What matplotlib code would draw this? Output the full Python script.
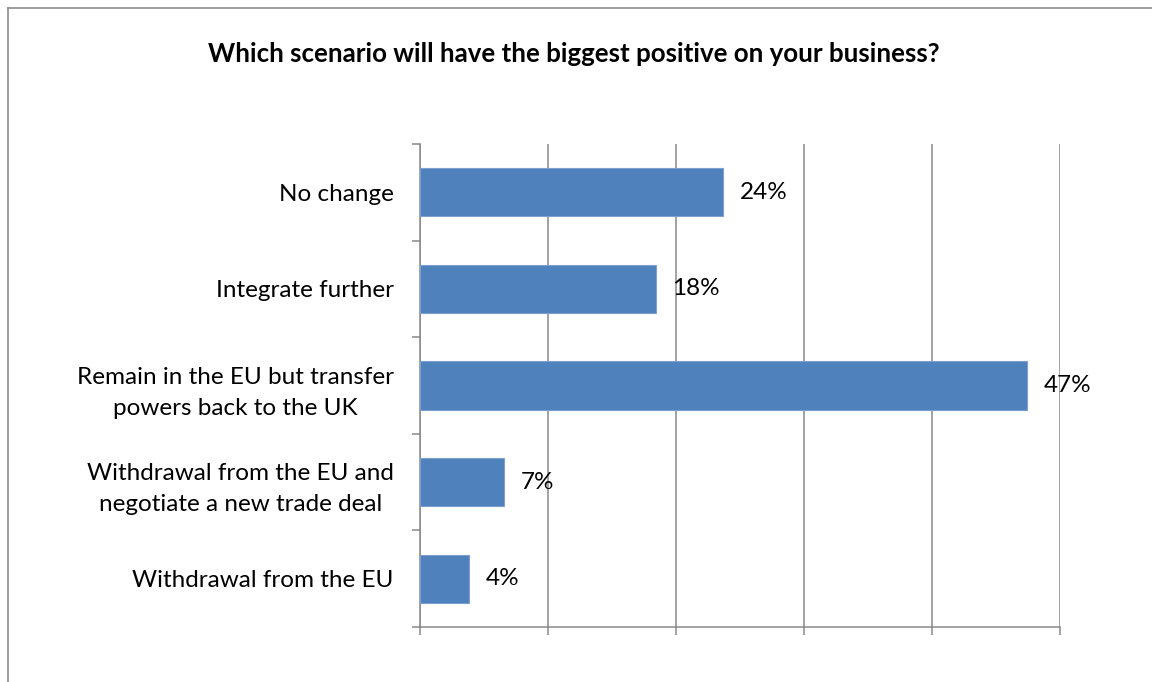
import matplotlib
matplotlib.use("Agg")
import matplotlib.pyplot as plt
from matplotlib.lines import Line2D

plt.rcParams['font.family'] = ['Lato', 'DejaVu Sans']

# data (percent of respondents)
scenarios = [
    "No change",
    "Integrate further",
    "Remain in the EU but transfer\npowers back to the UK",
    "Withdrawal from the EU and\nnegotiate a new trade deal",
    "Withdrawal from the EU",
]
shares = [23.65, 18.4, 47.4, 6.56, 3.85]
title = "Which scenario will have the biggest positive on your business?"

W, H = 1152, 682
fig = plt.figure(figsize=(W / 100, H / 100), dpi=100)
ax = fig.add_axes([420 / W, 1 - 627 / H, 640 / W, 483 / H])

grey = "#898989"
ypos = list(range(len(scenarios)))
ax.barh(ypos, shares, height=0.5, color="#4f81bd", edgecolor="#7ea0d0", linewidth=0.8, zorder=3)

for y, v in zip(ypos, shares):
    ax.annotate(f"{round(v)}%", (v, y), xytext=(12, 0), textcoords="offset points",
                va="center", ha="left", fontsize=17.5, zorder=4)

ax.set_xlim(0, 50)
ax.set_ylim(len(scenarios) - 0.5, -0.5)
ax.set_xticks(range(0, 51, 10))
ax.set_xticklabels([])
ax.xaxis.grid(True, color=grey, linewidth=1.1, zorder=0)
ax.tick_params(axis="x", length=6, width=1.1, color=grey)

ax.set_yticks(ypos)
ax.set_yticklabels(scenarios, fontsize=17.5, ha="right", multialignment="center", linespacing=1.6)
ax.set_yticks([i - 0.5 for i in range(len(scenarios) + 1)], minor=True)
ax.tick_params(axis="y", which="major", length=0, pad=19)
ax.tick_params(axis="y", which="minor", length=6, width=1.1, color=grey)

for s in ["top", "right"]:
    ax.spines[s].set_visible(False)
for s in ["left", "bottom"]:
    ax.spines[s].set_color(grey)
    ax.spines[s].set_linewidth(1.1)

fig.text(574 / W, 1 - 54 / H, title, ha="center", va="center", fontsize=18.6, fontweight="bold")

# chart frame (only left and top edges are visible in the crop)
fig.add_artist(Line2D([8 / W, 8 / W], [0, 1 - 8 / H], color="#8c8c8c", linewidth=1.2))
fig.add_artist(Line2D([8 / W, 1], [1 - 8 / H, 1 - 8 / H], color="#8c8c8c", linewidth=1.2))

fig.savefig("out.png", dpi=100, facecolor="white")
